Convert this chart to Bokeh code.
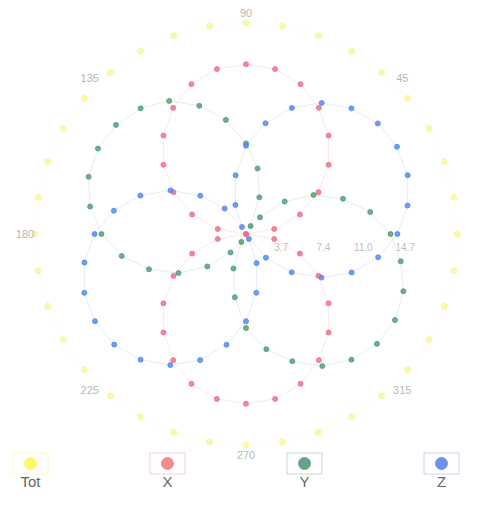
import numpy as np
from bokeh.plotting import figure
from bokeh.models import ColumnDataSource, Range1d
from bokeh.embed import file_html
from bokeh.resources import INLINE
from bokeh.core.properties import value

# ---------------- data ----------------
angles_deg = [0, 10, 20, 30, 40, 50, 60, 70, 80, 90, 100, 110, 120, 130, 140, 150, 160, 170,
              180, 190, 200, 210, 220, 230, 240, 250, 260, 270, 280, 290, 300, 310, 320, 330, 340, 350]

tot_vals = [18.4, 18.4, 18.4, 18.4, 18.4, 18.4, 18.4, 18.4, 18.4, 18.4, 18.4, 18.4, 18.4, 18.4, 18.4, 18.4, 18.4, 18.4,
            18.4, 18.4, 18.4, 18.4, 18.4, 18.4, 18.4, 18.4, 18.4, 18.4, 18.4, 18.4, 18.4, 18.4, 18.4, 18.4, 18.4, 18.4]

x_vals = [0.0, 2.5, 5.0, 7.3, 9.4, 11.2, 12.7, 13.9, 14.6, 14.8, 14.6, 13.9, 12.7, 11.2, 9.4, 7.3, 5.0, 2.5,
          0.0, 2.5, 5.0, 7.3, 9.4, 11.2, 12.7, 13.9, 14.6, 14.8, 14.6, 13.9, 12.7, 11.2, 9.4, 7.3, 5.0, 2.5]

y_vals = [12.6, 11.0, 9.0, 6.8, 4.4, 1.9, 0.8, 3.4, 5.8, 7.9, 10.1, 11.9, 13.4, 14.3, 14.8, 14.9, 14.6, 13.8,
          12.6, 11.0, 9.0, 6.8, 4.4, 2.1, 0.8, 3.2, 5.6, 8.2, 10.2, 11.8, 13.3, 14.3, 14.9, 15.0, 14.6, 13.7]

z_vals = [13.2, 14.3, 15.0, 15.2, 15.0, 14.3, 13.2, 11.7, 9.8, 7.7, 5.2, 2.7, 0.7, 2.9, 5.2, 7.6, 9.8, 11.7,
          13.2, 14.3, 15.0, 15.2, 15.0, 14.3, 13.2, 11.7, 9.8, 7.6, 5.2, 2.7, 0.5, 2.7, 5.2, 7.6, 9.8, 11.7]

series_names = ["Tot", "X", "Y", "Z"]
series_colors = ["#f4f060", "#f06a84", "#4e9a70", "#5086ec"]
legend_colors = ["#fbf86a", "#f58a8f", "#68a383", "#6b93ea"]

angle_label_positions = [45, 90, 135, 180, 225, 270, 315]
angle_label_texts = ["45", "90", "135", "180", "225", "270", "315"]

radial_ticks = [3.68, 7.36, 11.04, 14.72]
radial_tick_labels = ["3.7", "7.4", "11.0", "14.7"]

# ---------------- layout ----------------
W, H = 461, 490
PX = 11.47             # pixels per data unit
CX, CY = 245.5, 233.5  # centre of polar plot in figure pixels (from top-left)

p = figure(width=W, height=H, output_backend="svg", toolbar_location=None,
           x_range=Range1d(-CX / PX, (W - CX) / PX),
           y_range=Range1d(-(H - CY) / PX, CY / PX),
           min_border=0, outline_line_color=None)
p.xaxis.visible = False
p.yaxis.visible = False
p.grid.visible = False
p.background_fill_color = "white"
p.border_fill_color = "white"

theta = np.deg2rad(np.array(angles_deg, dtype=float))
all_vals = [tot_vals, x_vals, y_vals, z_vals]
sizes = [6, 5, 5, 5]
dot_alpha = [0.45, 0.8, 0.8, 0.8]
line_alpha = [0.12, 0.16, 0.16, 0.16]

for name, vals, col, sz, al, la in zip(series_names, all_vals, series_colors, sizes, dot_alpha, line_alpha):
    r = np.array(vals, dtype=float)
    xs = r * np.cos(theta)
    ys = r * np.sin(theta)
    src = ColumnDataSource(dict(x=xs, y=ys))
    lx = np.append(xs, xs[0])
    ly = np.append(ys, ys[0])
    p.line(lx, ly, line_color=col, line_width=1, line_alpha=la)
    p.scatter("x", "y", source=src, size=sz, fill_color=col, line_color=col,
              fill_alpha=al, line_alpha=al)

# angle labels
lab_r = 221.0 / PX
ath = np.deg2rad(np.array(angle_label_positions, dtype=float))
p.text(x=lab_r * np.cos(ath), y=lab_r * np.sin(ath), text=angle_label_texts,
       text_align="center", text_baseline="middle", text_font_size="11px",
       text_color="#b8b8b8", text_font=value("Liberation Sans"))

# radial tick labels along 0 degrees
p.text(x=radial_ticks, y=[0] * len(radial_ticks), text=radial_tick_labels,
       text_align="right", text_baseline="middle", y_offset=13,
       text_font_size="10px", text_color="#c0c0c0", text_font=value("Liberation Sans"))

# legend (manual, label below marker)
leg_x_px = [30 + i * 137 for i in range(len(series_names))]
leg_x = [(v - CX) / PX for v in leg_x_px]
leg_y = (CY - 463) / PX
lab_y = (CY - 481) / PX
p.rect(x=leg_x, y=[leg_y] * 4, width=35, height=21, width_units="screen", height_units="screen",
       fill_color=None, line_color=legend_colors, line_alpha=0.4, line_width=1)
p.scatter(x=leg_x, y=[leg_y] * 4, size=12, fill_color=legend_colors, line_color=legend_colors)
p.text(x=leg_x, y=[lab_y] * 4, text=series_names, text_align="center", text_baseline="middle",
       text_font_size="15px", text_color="#666666", text_font=value("Liberation Sans"))

open("out.html", "w").write(file_html(p, INLINE))
